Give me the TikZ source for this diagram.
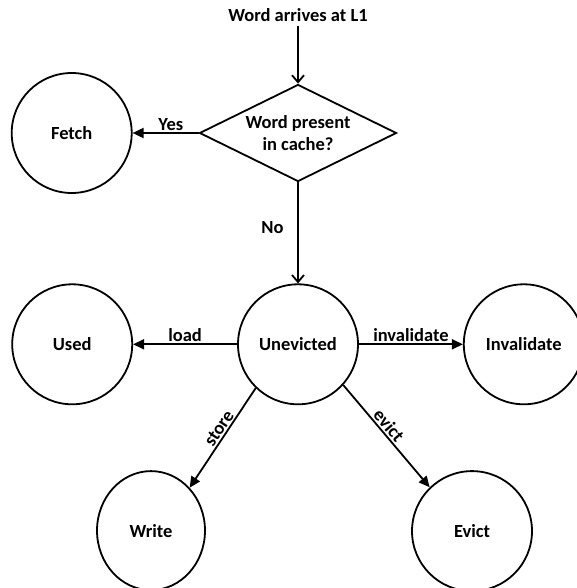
\documentclass[tikz,border=0pt]{standalone}
\usepackage{fontspec}
\setmainfont{Carlito}
\usetikzlibrary{shapes.geometric, arrows.meta, positioning}

\begin{document}
\begin{tikzpicture}[
  node distance=101pt and 104pt,
  every node/.style={font=\fontsize{18.5}{22}\selectfont\bfseries},
  state/.style={draw, circle, line width=1.8pt, minimum size=120pt, inner sep=0pt},
  decision/.style={draw, diamond, aspect=2, line width=1.8pt, minimum width=197pt, minimum height=97pt, inner sep=0pt, align=center},
  lbl/.style={inner sep=1.5pt},
  arr/.style={-{Triangle[length=11pt, width=10pt]}, line width=1.8pt},
  varr/.style={-{Straight Barb[length=7pt, width=12pt]}, line width=1.8pt}
]
  \useasboundingbox (0,0) rectangle (576pt,-588pt);
  \node[decision] (dec) at (298pt,-133pt) {Word present\\in cache?};
  \node[above=58pt of dec] (in) {Word arrives at L1};
  \node[state, left=66pt of dec] (fetch) {Fetch};
  \node[state, below=of dec] (unev) {Unevicted};
  \node[state, left=of unev] (used) {Used};
  \node[state, right=of unev] (inval) {Invalidate};
  \node[state, ellipse, minimum width=108pt, minimum height=119pt, below=65pt of unev, xshift=-147pt] (write) {Write};
  \node[state, below=65pt of unev, xshift=174pt] (evict) {Evict};
  \draw[varr] (in) -- (dec);
  \draw[arr] (dec) -- node[lbl, above, pos=0.42] {Yes} (fetch);
  \draw[varr] (dec) -- node[lbl, left=12pt, pos=0.45] {No} (unev);
  \draw[arr] (unev) -- node[lbl, above] {load} (used);
  \draw[arr] (unev) -- node[lbl, above] {invalidate} (inval);
  \draw[arr] (unev.226) -- node[lbl, above, sloped, pos=0.45] {store} (write.48);
  \draw[arr] (unev.318) -- node[lbl, above, sloped, pos=0.45] {evict} (evict.134);
\end{tikzpicture}
\end{document}
